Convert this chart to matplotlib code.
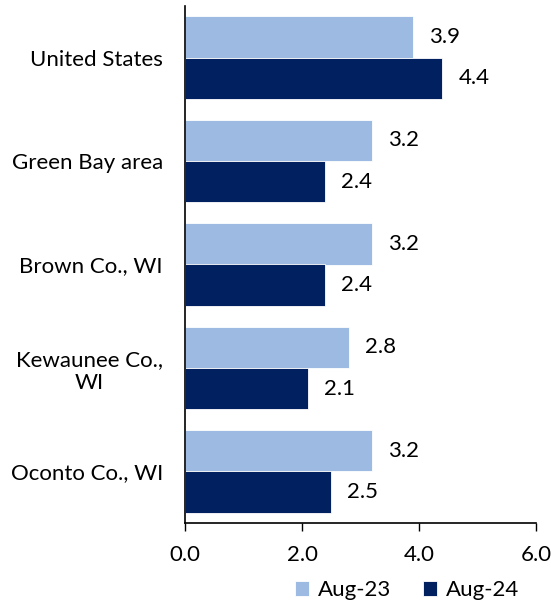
import matplotlib
matplotlib.use("Agg")
import matplotlib.pyplot as plt
import numpy as np

plt.rcParams['font.family'] = ['Lato', 'DejaVu Sans']

categories = ["United States", "Green Bay area", "Brown Co., WI", "Kewaunee Co.,\nWI", "Oconto Co., WI"]
series_names = ["Aug-23", "Aug-24"]
aug23 = [3.9, 3.2, 3.2, 2.8, 3.2]
aug24 = [4.4, 2.4, 2.4, 2.1, 2.5]
xticks = [0, 2, 4, 6]
xticklabels = ["0.0", "2.0", "4.0", "6.0"]

light = "#9DBAE3"
dark = "#002060"
fs = 16

fig = plt.figure(figsize=(5.51, 6.02), dpi=100)
ax = fig.add_axes([185/551, 1-523/602, (536-185)/551, (523-6)/602])

n = len(categories)
y = np.arange(n)
h = 0.4
b1 = ax.barh(y - h/2, aug23, height=h, color=light, edgecolor="white", linewidth=0.6, label=series_names[0])
b2 = ax.barh(y + h/2, aug24, height=h, color=dark, edgecolor="white", linewidth=0.6, label=series_names[1])

for bars, vals in ((b1, aug23), (b2, aug24)):
    for rect, v in zip(bars, vals):
        ax.annotate(f"{v:.1f}", xy=(v, rect.get_y() + rect.get_height()/2),
                    xytext=(11.5, 0), textcoords="offset points",
                    ha="left", va="center", fontsize=fs, color="#000000")

ax.set_ylim(n - 0.5, -0.5)
ax.set_xlim(0, 6)
ax.set_yticks(y)
ax.set_yticklabels(categories, fontsize=fs, multialignment="center")
ax.set_xticks(xticks)
ax.set_xticklabels(xticklabels, fontsize=fs)
ax.tick_params(axis="y", length=0, pad=16)
ax.tick_params(axis="x", length=6, width=1, direction="out", pad=10, color="#000000")
for s in ("top", "right"):
    ax.spines[s].set_visible(False)
for s in ("left", "bottom"):
    ax.spines[s].set_linewidth(1.2)
    ax.spines[s].set_color("#000000")

fig.legend(handles=[b1, b2], labels=series_names, loc="center",
           bbox_to_anchor=(407/551, 1-590/602), ncol=2, frameon=False,
           fontsize=fs, handlelength=0.65, handleheight=0.65, columnspacing=1.4,
           handletextpad=0.4)

fig.savefig("out.png", dpi=100)
